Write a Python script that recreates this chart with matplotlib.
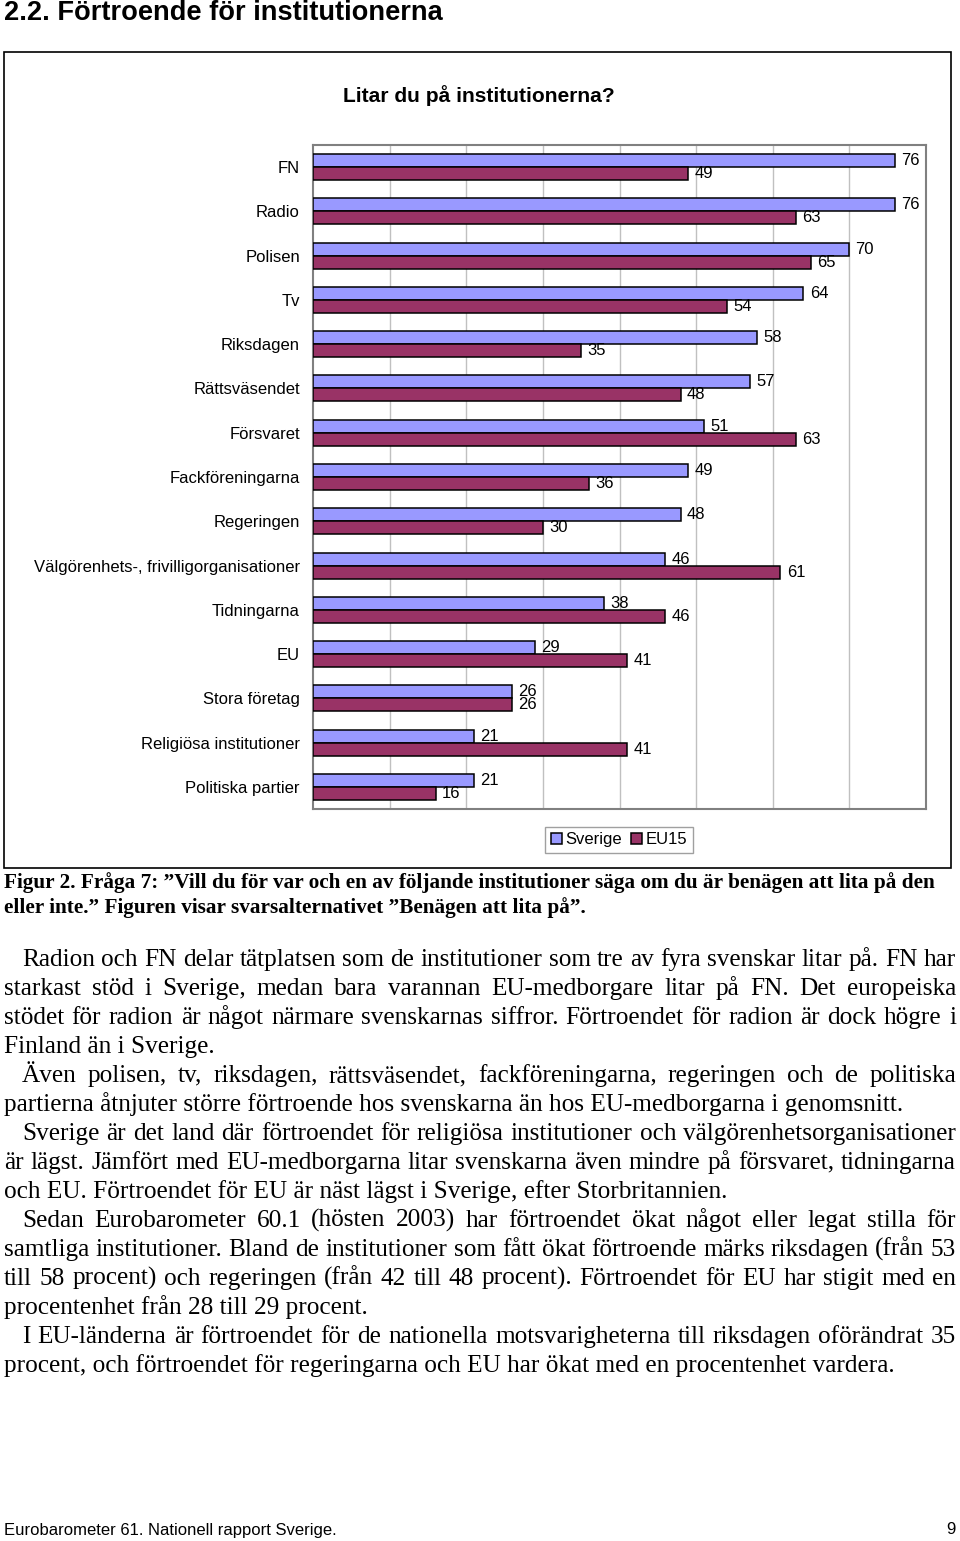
import numpy as np
import matplotlib
matplotlib.use("Agg")
import matplotlib.pyplot as plt
from matplotlib.patches import Rectangle

# ------------------------------------------------------------------ data
INST = ['FN', 'Radio', 'Polisen', 'Tv', 'Riksdagen', 'Rättsväsendet', 'Försvaret',
        'Fackföreningarna', 'Regeringen', 'Välgörenhets-, frivilligorganisationer',
        'Tidningarna', 'EU', 'Stora företag', 'Religiösa institutioner', 'Politiska partier']
SVERIGE = [76, 76, 70, 64, 58, 57, 51, 49, 48, 46, 38, 29, 26, 21, 21]
EU15    = [49, 63, 65, 54, 35, 48, 63, 36, 30, 61, 46, 41, 26, 41, 16]
SERIES  = ['Sverige', 'EU15']
COL     = {'Sverige': '#9999FF', 'EU15': '#993366'}
GRID    = np.arange(10, 80, 10)

HEADING = "2.2. Förtroende för institutionerna"
TITLE   = "Litar du på institutionerna?"
CAPTION = ["Figur 2. Fråga 7: \u201dVill du för var och en av följande institutioner säga om du är benägen att lita på den",
           "eller inte.\u201d Figuren visar svarsalternativet \u201dBenägen att lita på\u201d."]
# varje stycke: lista med rader (sista raden vänsterställd)
BODY = [
    ["Radion och FN delar tätplatsen som de institutioner som tre av fyra svenskar litar på. FN har",
     "starkast stöd i Sverige, medan bara varannan EU-medborgare litar på FN. Det europeiska",
     "stödet för radion är något närmare svenskarnas siffror. Förtroendet för radion är dock högre i",
     "Finland än i Sverige."],
    ["Även polisen, tv, riksdagen, rättsväsendet, fackföreningarna, regeringen och de politiska",
     "partierna åtnjuter större förtroende hos svenskarna än hos EU-medborgarna i genomsnitt."],
    ["Sverige är det land där förtroendet för religiösa institutioner och välgörenhetsorganisationer",
     "är lägst. Jämfört med EU-medborgarna litar svenskarna även mindre på försvaret, tidningarna",
     "och EU. Förtroendet för EU är näst lägst i Sverige, efter Storbritannien."],
    ["Sedan Eurobarometer 60.1 (hösten 2003) har förtroendet ökat något eller legat stilla för",
     "samtliga institutioner. Bland de institutioner som fått ökat förtroende märks riksdagen (från 53",
     "till 58 procent) och regeringen (från 42 till 48 procent). Förtroendet för EU har stigit med en",
     "procentenhet från 28 till 29 procent."],
    ["I EU-länderna är förtroendet för de nationella motsvarigheterna till riksdagen oförändrat 35",
     "procent, och förtroendet för regeringarna och EU har ökat med en procentenhet vardera."],
]
FOOTER = "Eurobarometer 61. Nationell rapport Sverige."
PAGENO = "9"

W, H = 960, 1541
SANS, SERIF = 'Liberation Sans', 'Liberation Serif'

# ------------------------------------------------------------------ sida (pixelkoordinater)
fig = plt.figure(figsize=(W / 100, H / 100), dpi=100)
page = fig.add_axes([0, 0, 1, 1])
page.set_xlim(0, W); page.set_ylim(H, 0); page.axis('off')
R = fig.canvas.get_renderer()

def width(t):
    return t.get_window_extent(R).width

def fit(s, x, y, w, size0=12, **kw):          # fontstorlek så att texten blir w px bred
    t = page.text(x, y, s, fontsize=size0, **kw)
    t.set_fontsize(size0 * w / width(t))
    return t

def justify(line, x0, x1, y, size):
    words = line.split()
    ts = [page.text(0, y, w, fontsize=size, family=SERIF, va='baseline') for w in words]
    ws = [width(t) for t in ts]
    gap = (x1 - x0 - sum(ws)) / (len(words) - 1)
    x = x0
    for t, w in zip(ts, ws):
        t.set_x(x); x += w + gap

fit(HEADING, 4, 13, 437, family=SANS, weight='bold', va='center')
page.add_patch(Rectangle((4, 52), 947, 816, fill=False, ec='black', lw=1.2))
fit(TITLE, 343, 96, 270, family=SANS, weight='bold', va='center')

cap = fit(CAPTION[0], 4, 883, 923, family=SERIF, weight='bold', va='center')
page.text(4, 908, CAPTION[1], fontsize=cap.get_fontsize(), family=SERIF, weight='bold', va='center')

body_size = fit(BODY[1][1], 4, 1111, 896, family=SERIF, va='baseline').get_fontsize()
y = 966
for para in BODY:
    for j, line in enumerate(para):
        x0 = 22 if j == 0 else 4
        last = j == len(para) - 1
        if last:
            if line != BODY[1][1]:
                page.text(x0, y, line, fontsize=body_size, family=SERIF, va='baseline')
        else:
            justify(line, x0, 956, y, body_size)
        y += 29

ft = fit(FOOTER, 4, 1530, 332, family=SANS, va='center')
page.text(956, 1530, PAGENO, fontsize=ft.get_fontsize(), family=SANS, va='center', ha='right')

# ------------------------------------------------------------------ diagram
ax = fig.add_axes([313 / W, 1 - 809 / H, (926 - 313) / W, (809 - 145) / H])
pos = np.arange(len(INST))
bh = 0.293
for k, (name, vals) in enumerate(zip(SERIES, [SVERIGE, EU15])):
    off = (k - 0.5) * bh
    ax.barh(pos + off, vals, height=bh, color=COL[name], edgecolor='black', lw=1.1,
            label=name, zorder=3)
    for yy, v in zip(pos + off, vals):
        ax.annotate(str(v), (v, yy), xytext=(4.5, 0), textcoords='offset points',
                    va='center', ha='left', fontsize=12, family=SANS, annotation_clip=False)
ax.set_xlim(0, 80); ax.set_ylim(len(INST) - 0.5, -0.5)
ax.set_yticks(pos, INST, fontsize=12, family=SANS)
ax.tick_params(axis='y', length=0, pad=9.4)
ax.set_xticks(GRID); ax.tick_params(axis='x', length=0, labelbottom=False)
ax.grid(axis='x', color='#c0c0c0', lw=1)
ax.set_axisbelow(True)
for s in ax.spines.values():
    s.set_color('#808080'); s.set_linewidth(1.5)

leg = ax.legend(loc='center', bbox_to_anchor=(619 / W, 1 - 840 / H), bbox_transform=fig.transFigure,
                ncol=2, fancybox=False, edgecolor='#a0a0a0', framealpha=1,
                handlelength=0.7, handleheight=0.7, handletextpad=0.2, columnspacing=0.5,
                borderpad=0.35, prop={'family': SANS, 'size': 12})
leg.get_frame().set_linewidth(1)

fig.savefig('out.png', dpi=100)
